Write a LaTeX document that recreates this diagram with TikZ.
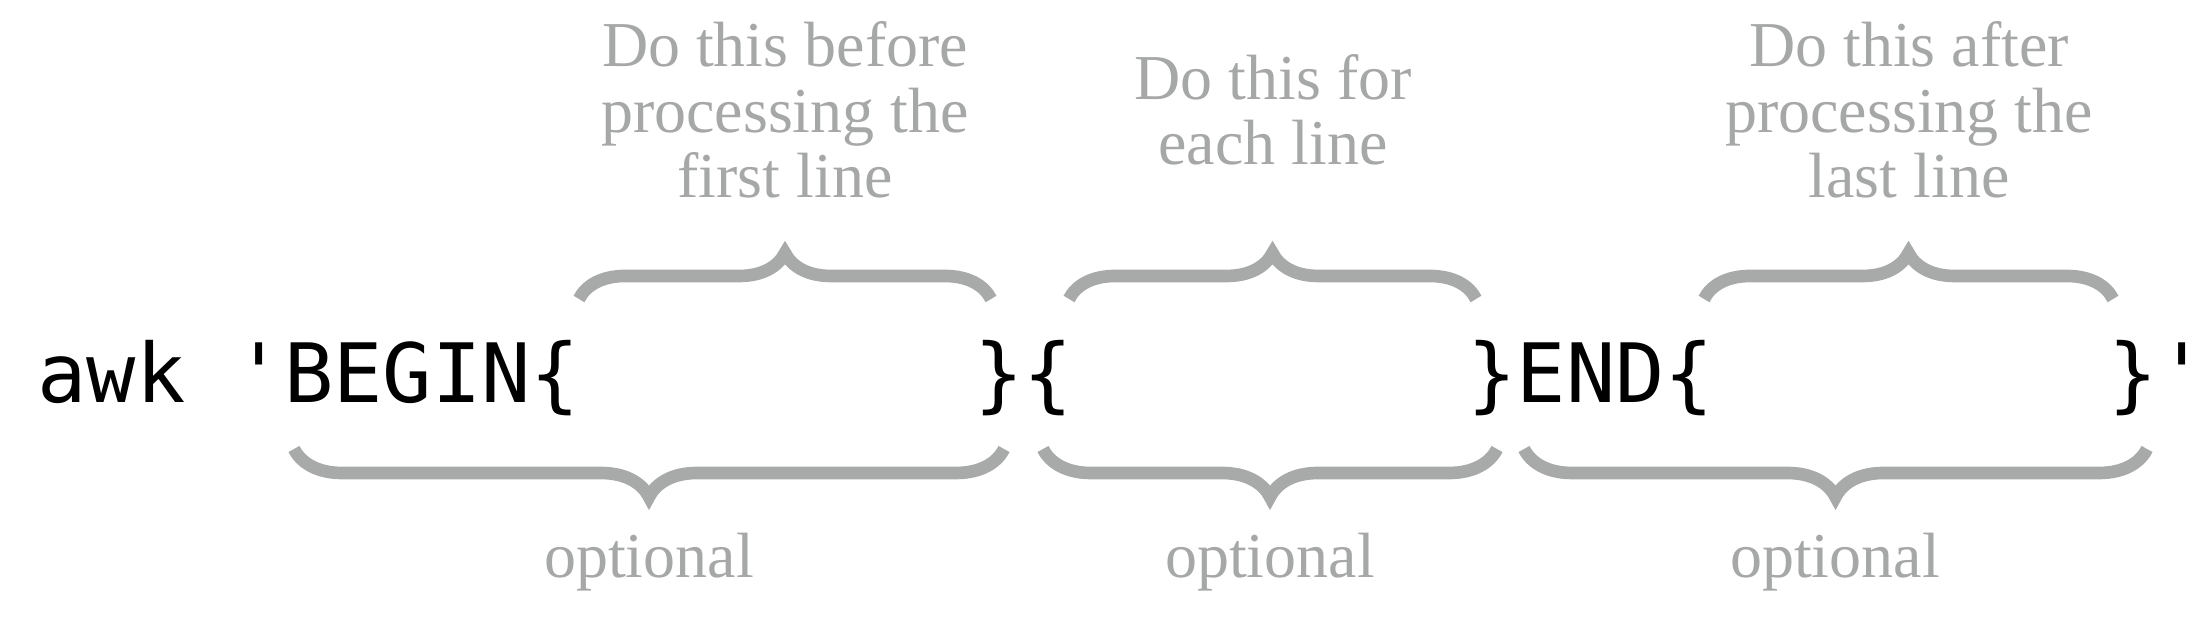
\documentclass[tikz,border=0pt]{standalone}
\usepackage{fontspec}
\setmainfont{Liberation Serif}
\setmonofont{DejaVu Sans Mono}
\usepackage{tikz}
\usetikzlibrary{decorations.pathreplacing}
\definecolor{braceGrey}{HTML}{A8A9A9}
\definecolor{noteGrey}{HTML}{A6A7A7}

\begin{document}
\begin{tikzpicture} [
    codePart/.style={anchor=base west, inner sep=0pt, font=\fontsize{23.3}{28}\selectfont\ttfamily},
    note/.style={align=center, inner sep=0pt, text=noteGrey, font=\fontsize{18.2}{18.6}\selectfont},
    optNote/.style={note, anchor=base},
    upBrace/.style={decorate, decoration={brace, amplitude=4.6mm}, line width=3.6pt, color=braceGrey},
    downBrace/.style={decorate, decoration={brace, amplitude=4.8mm}, line width=3.6pt, color=braceGrey}
]

\useasboundingbox (0, 0) rectangle (22.12, 6.30);

% the command line
\node[codePart] (awk_begin) at (0.37, 2.27) {awk 'BEGIN\{};
\node[codePart] (main_open) at (9.737, 2.27) {\}\{};
\node[codePart] (end_open) at (14.667, 2.27) {\}END\{};
\node[codePart] (closing) at (21.076, 2.27) {\}'};

% ends of the braces above
\coordinate (up_begin_l) at (5.79, 3.31);
\coordinate (up_begin_r) at (9.91, 3.31);
\coordinate (up_main_l) at (10.69, 3.31);
\coordinate (up_main_r) at (14.76, 3.31);
\coordinate (up_end_l) at (17.04, 3.31);
\coordinate (up_end_r) at (21.13, 3.31);

\draw[upBrace] (up_begin_l) -- (up_begin_r);
\draw[upBrace] (up_main_l) -- (up_main_r);
\draw[upBrace] (up_end_l) -- (up_end_r);

% ends of the braces below
\coordinate (low_begin_l) at (2.94, 1.81);
\coordinate (low_begin_r) at (10.04, 1.81);
\coordinate (low_main_l) at (10.43, 1.81);
\coordinate (low_main_r) at (14.97, 1.81);
\coordinate (low_end_l) at (15.24, 1.81);
\coordinate (low_end_r) at (21.47, 1.81);

\draw[downBrace] (low_begin_r) -- (low_begin_l);
\draw[downBrace] (low_main_r) -- (low_main_l);
\draw[downBrace] (low_end_r) -- (low_end_l);

% what each block does
\node[note] (before_note) at (7.85, 5.20) {Do this before\\processing the\\first line};
\node[note] (each_note) at (12.73, 5.20) {Do this for\\each line};
\node[note] (after_note) at (19.09, 5.20) {Do this after\\processing the\\last line};

\node[optNote] (begin_opt) at (6.49, 0.52) {optional};
\node[optNote] (main_opt) at (12.70, 0.52) {optional};
\node[optNote] (end_opt) at (18.35, 0.52) {optional};

\end{tikzpicture}
\end{document}
